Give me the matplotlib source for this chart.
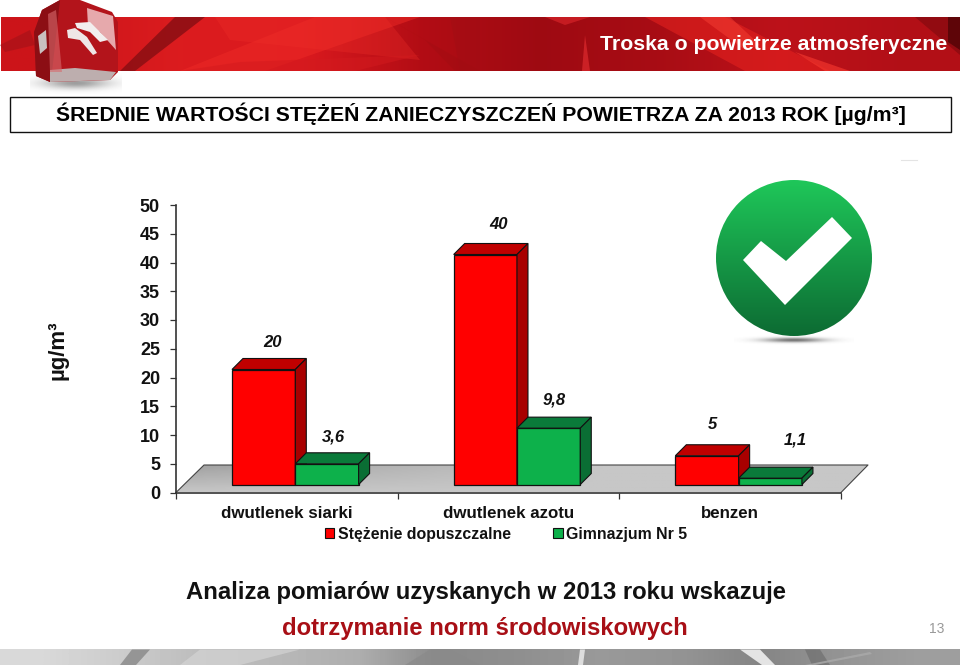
import numpy as np
import matplotlib
matplotlib.use('Agg')
import matplotlib.pyplot as plt
from matplotlib.patches import Polygon, Rectangle, Circle

plt.rcParams['font.family'] = ['Liberation Sans', 'DejaVu Sans']

# data
categories = ['dwutlenek siarki', 'dwutlenek azotu', 'benzen']
limit_values = [20, 40, 5]
school_values = [3.6, 9.8, 1.1]
series_names = ['Stężenie dopuszczalne', 'Gimnazjum Nr 5']
y_ticks = [0, 5, 10, 15, 20, 25, 30, 35, 40, 45, 50]

W, H = 960, 666
fig = plt.figure(figsize=(9.6, 6.66), dpi=100)

# page decoration in pixel coords
bg = fig.add_axes([0, 0, 1, 1])
bg.set_xlim(0, W)
bg.set_ylim(H, 0)
bg.axis('off')


def poly(pts, color, alpha=1.0, z=2, ax=bg, **kw):
    p = Polygon(pts, closed=True, facecolor=color, edgecolor='none', alpha=alpha, zorder=z, **kw)
    ax.add_patch(p)
    return p


def grad(extent, rows, clip=None, z=1, cmap=None):
    im = bg.imshow(rows, extent=extent, aspect='auto', zorder=z, interpolation='bilinear', cmap=cmap)
    if clip is not None:
        im.set_clip_path(clip)
    return im


# red banner
banner = np.array([[[0.80, 0.08, 0.10], [0.86, 0.11, 0.12], [0.86, 0.10, 0.12], [0.70, 0.05, 0.08],
                    [0.62, 0.04, 0.07], [0.66, 0.05, 0.08], [0.74, 0.07, 0.10], [0.70, 0.06, 0.09]]])
grad((1, 960, 71, 17), banner)
poly([(120, 71), (175, 17), (205, 17), (135, 71)], '#8f0f14', 0.9)
poly([(180, 71), (315, 17), (420, 17), (265, 71)], '#ee2a26', 0.5)
poly([(215, 17), (230, 40), (420, 60), (385, 17)], '#f0302a', 0.3)
poly([(240, 62), (420, 55), (355, 71), (180, 71)], '#d31a1e', 0.5)
poly([(385, 17), (480, 71), (455, 71), (425, 40)], '#9f0d12', 0.4)
poly([(450, 17), (480, 17), (480, 71), (460, 71)], '#a20e13', 0.5)
poly([(545, 17), (565, 25), (590, 17)], '#cf2025', 0.8)
poly([(585, 35), (590, 71), (582, 71)], '#d6262a', 0.8)
poly([(645, 17), (725, 17), (830, 71), (745, 71)], '#e8231f', 0.55)
poly([(700, 17), (730, 17), (760, 45), (745, 50)], '#f03a30', 0.6)
poly([(795, 52), (850, 71), (825, 71)], '#f0342c', 0.7)
poly([(915, 17), (960, 17), (960, 55)], '#8a0a10', 0.8)
poly([(948, 17), (960, 17), (960, 50), (948, 42)], '#5e0508')
poly([(0, 45), (30, 30), (35, 45), (5, 52)], '#a31218', 0.6)

# logo cube
shadow = np.zeros((24, 90, 4))
shadow[..., :3] = 0.3
yy, xx = np.mgrid[-1:1:24j, -1:1:90j]
shadow[..., 3] = 0.55 * np.exp(-(xx ** 2 * 2 + yy ** 2 * 3.5))
grad((30, 122, 94, 72), shadow, z=2.5)
poly([(42, 10), (60, 0), (80, 0), (112, 12), (118, 22), (118, 72), (110, 80), (50, 82), (36, 76), (34, 32)],
     '#b3141b', z=3)
poly([(34, 32), (42, 10), (60, 0), (52, 72), (50, 82), (36, 76)], '#8c0e14', z=3)
poly([(87, 8), (113, 16), (116, 50), (100, 32), (88, 26)], '#e6a9ac', z=3)
poly([(50, 70), (75, 68), (116, 72), (110, 80), (50, 82)], '#bdaeae', z=3)
poly([(48, 14), (56, 10), (62, 72), (50, 72)], '#d86a6e', 0.6, z=3)
poly([(75, 23), (90, 22), (108, 40), (100, 42), (90, 32), (77, 28)], '#f2eeee', z=4)
poly([(67, 30), (75, 28), (87, 37), (97, 53), (93, 55), (80, 40), (68, 38)], '#efe6e6', z=4)
poly([(38, 36), (46, 30), (47, 48), (40, 54)], '#c9c0c0', z=4)

bg.text(947, 45, 'Troska o powietrze atmosferyczne', color='white', fontsize=15.3, fontweight='bold',
        ha='right', va='center', zorder=5)

# title box
bg.add_patch(Rectangle((10, 98), 942, 34, facecolor='#777777', edgecolor='none', zorder=2))
bg.add_patch(Rectangle((9.5, 96.5), 941.5, 35, facecolor='white', edgecolor='#111111', linewidth=1, zorder=3))
bg.text(480.5, 114, 'ŚREDNIE WARTOŚCI STĘŻEŃ ZANIECZYSZCZEŃ POWIETRZA ZA 2013 ROK [µg/m³]', color='black',
        fontsize=15.3, fontweight='bold', ha='center', va='center', zorder=4)

# tiny smudge at top right of the chart
bg.plot([901, 917], [159.5, 159.5], color='#e4e4e4', lw=0.8, zorder=2)

# green tick badge
disc_rows = np.zeros((100, 1, 3))
top, bottom = np.array([0.12, 0.78, 0.35]), np.array([0.05, 0.42, 0.20])
for i in range(100):
    disc_rows[i, 0] = top + (bottom - top) * i / 99
disc = Circle((794, 258), 78, transform=bg.transData)
grad((716, 872, 336, 180), disc_rows, clip=disc, z=2)
sh = np.zeros((16, 120, 4))
yy, xx = np.mgrid[-1:1:16j, -1:1:120j]
sh[..., :3] = 0.2
sh[..., 3] = 0.7 * np.exp(-(xx ** 2 * 4 + yy ** 2 * 6))
grad((734, 854, 346, 334), sh, z=1.5)
poly([(743, 260), (761, 241), (786, 261), (832, 217), (852, 238), (785, 305)], 'white', z=3)

# floor of the 3d chart, with a gradient
floor_px = [(176, 492.5), (204, 465), (868, 465), (841, 492.5)]
v = np.linspace(0, 1, 40)[:, None]
u = np.linspace(0, 1, 200)[None, :]
floor_rows = 0.62 + (0.78 - 0.62) * (v + (1 - v) * np.clip(u * 1.6, 0, 1))
floor_clip = Polygon(floor_px, closed=True, transform=bg.transData)
grad((176, 868, 492.5, 465), floor_rows, clip=floor_clip, z=1, cmap='gray')
bg.images[-1].set_clim(0, 1)
bg.plot([176, 204, 868, 841], [492.5, 465, 465, 492.5], color='#444444', lw=0.8, zorder=1.5)

# bottom grey band
band = np.array([[0.85, 0.80, 0.74, 0.72, 0.68, 0.54, 0.56, 0.60, 0.58, 0.52, 0.58, 0.62]])
grad((0, 960, 665, 649.5), band, cmap='gray')
bg.images[-1].set_clim(0, 1)
poly([(120, 665), (132, 649.5), (150, 649.5), (136, 665)], '#888888', 0.8)
poly([(180, 665), (200, 649.5), (300, 649.5), (240, 665)], '#d8d8d8', 0.6)
poly([(405, 665), (430, 649.5), (450, 649.5), (480, 665)], '#8a8a8a', 0.7)
poly([(580, 649.5), (585, 649.5), (583, 665), (578, 665)], '#dddddd')
poly([(740, 649.5), (760, 649.5), (775, 665), (762, 665)], '#e4e4e4')
poly([(805, 649.5), (820, 649.5), (830, 665), (812, 665)], '#6a6a6a', 0.6)
poly([(805, 665), (870, 652), (872, 654), (815, 665)], '#aaaaaa', 0.8)

# the chart itself
left, right, base_px, top_px = 176, 841, 492.5, 205
ax = fig.add_axes([left / W, 1 - base_px / H, (right - left) / W, (base_px - top_px) / H], zorder=2)
ax.patch.set_alpha(0)
ax.set_xlim(0, len(categories))
ax.set_ylim(0, 50)
ppx = len(categories) / (right - left)   # x units per pixel
ppy = 50 / (base_px - top_px)            # y units per pixel

bar_w = 63.3 * ppx
bar_off = 56 * ppx
floor_y = 8 * ppy
depth_x = 11 * ppx
depth_y = 11 * ppy
x_pos = np.arange(len(categories))
x_limit = x_pos + bar_off + bar_w / 2
x_school = x_limit + bar_w


def bars3d(xs, vals, col, top_col, side_col, z):
    ax.bar(xs, vals, bar_w, bottom=floor_y, color=col, edgecolor='#111111', linewidth=0.9, zorder=z)
    for x, val in zip(xs, vals):
        x0, x1, y1 = x - bar_w / 2, x + bar_w / 2, floor_y + val
        ax.add_patch(Polygon([(x0, y1), (x0 + depth_x, y1 + depth_y), (x1 + depth_x, y1 + depth_y), (x1, y1)],
                             facecolor=top_col, edgecolor='#111111', linewidth=0.8, zorder=z))
        ax.add_patch(Polygon([(x1, floor_y), (x1 + depth_x, floor_y + depth_y), (x1 + depth_x, y1 + depth_y), (x1, y1)],
                             facecolor=side_col, edgecolor='#111111', linewidth=0.8, zorder=z))


bars3d(x_limit, limit_values, '#ff0000', '#c00000', '#a80000', 3)
bars3d(x_school, school_values, '#0db14b', '#0a7a3a', '#0a6e34', 4)

# value labels, hand placed relative to the bar tops (offset in pixels)
limit_offsets = [(8.5, 27), (13, 30), (5, 31)]
school_offsets = [(6, 27), (5.5, 28), (25.5, 38)]
for xs, vals, offs in [(x_limit, limit_values, limit_offsets), (x_school, school_values, school_offsets)]:
    for x, val, off in zip(xs, vals, offs):
        ax.annotate(str(val).replace('.', ','), (x, floor_y + val), xytext=(off[0] * 0.72, off[1] * 0.72),
                    textcoords='offset points', ha='center', va='center', fontsize=12, fontweight='bold',
                    fontstyle='italic', color='#111111', zorder=6)

for s in ['top', 'right']:
    ax.spines[s].set_visible(False)
for s in ['left', 'bottom']:
    ax.spines[s].set_color('#333333')
    ax.spines[s].set_linewidth(1.2)
ax.set_yticks(y_ticks)
ax.set_yticklabels([str(t) for t in y_ticks], fontsize=13, fontweight='bold', color='#111111')
ax.tick_params(axis='y', length=4.5, width=0.9, color='#333333', pad=7)
ax.set_xticks(np.arange(len(categories) + 1))
ax.set_xticklabels([])
ax.tick_params(axis='x', length=4.5, width=0.9, color='#333333')
ax.set_xticks(x_pos + 0.5, minor=True)
ax.set_xticklabels(categories, minor=True, fontsize=12.2, fontweight='bold', color='#111111')
ax.tick_params(axis='x', which='minor', length=0, pad=10)

bg.text(58, 350, 'µg/m³', rotation=90, fontsize=16, fontweight='bold', color='#111111', ha='center', va='center')

handles = [Rectangle((0, 0), 1, 1, facecolor='#ff0000', edgecolor='#111111', linewidth=0.8),
           Rectangle((0, 0), 1, 1, facecolor='#0db14b', edgecolor='#111111', linewidth=0.8)]
leg = fig.legend(handles, series_names, ncol=2, loc='center', bbox_to_anchor=(506 / W, 1 - 534 / H), frameon=False,
                 prop={'size': 11.4, 'weight': 'bold'}, handlelength=0.6, handleheight=0.6, handletextpad=0.2,
                 columnspacing=2.7, labelcolor='#111111')

# conclusion text
bg.text(485.5, 593, 'Analiza pomiarów uzyskanych w 2013 roku wskazuje', color='#111111', fontsize=17.2, fontweight='bold',
        ha='center', va='center')
bg.text(485, 628, 'dotrzymanie norm środowiskowych', color='#a80f16', fontsize=17.2, fontweight='bold',
        ha='center', va='center')
bg.text(937, 629, '13', color='#999999', fontsize=10, ha='center', va='center')

fig.savefig('out.png', dpi=100)
